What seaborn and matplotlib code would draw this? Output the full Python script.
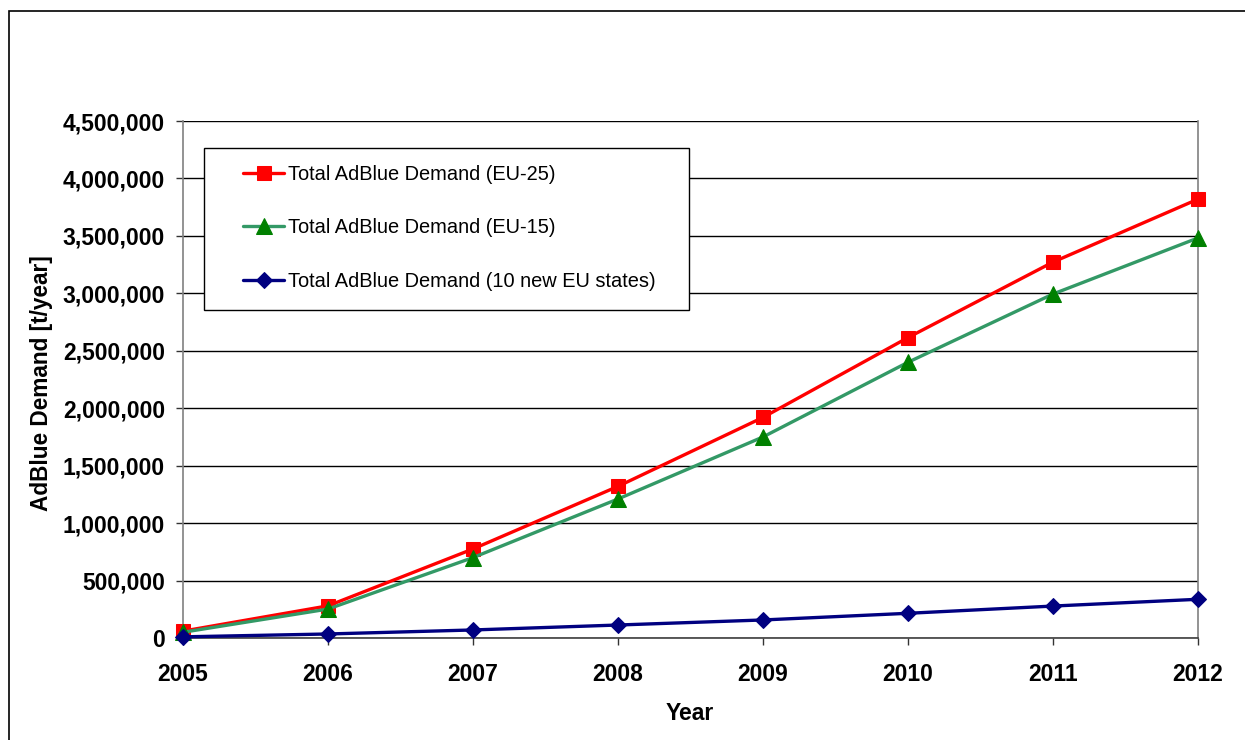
import matplotlib
matplotlib.use("Agg")
import matplotlib.pyplot as plt
import matplotlib.ticker as mticker
from matplotlib.patches import Rectangle
import seaborn as sns
import pandas as pd

years = [2005, 2006, 2007, 2008, 2009, 2010, 2011, 2012]
eu25 = [60000, 280000, 775000, 1320000, 1920000, 2615000, 3272000, 3820000]
eu15 = [50000, 252000, 700000, 1210000, 1750000, 2400000, 2994000, 3482000]
new10 = [10000, 35000, 70000, 113000, 157000, 215000, 278000, 337000]

labels = ["Total AdBlue Demand (EU-25)",
          "Total AdBlue Demand (EU-15)",
          "Total AdBlue Demand (10 new EU states)"]

sns.set_theme(style="white")
plt.rcParams['font.family'] = ['Liberation Sans', 'DejaVu Sans']
plt.rcParams['text.color'] = 'black'
plt.rcParams['axes.labelcolor'] = 'black'
plt.rcParams['xtick.color'] = 'black'
plt.rcParams['ytick.color'] = 'black'

fig = plt.figure(figsize=(12.45, 7.4), dpi=100)
ax = fig.add_axes([183/1245, 102/740, 1015/1245, 517/740])

# outer chart frame
fig.patches.append(Rectangle((9/1245, -0.1), 1.2, 1 - 11/740 + 0.1,
                             transform=fig.transFigure, fill=False,
                             edgecolor='black', linewidth=1.2))

df = pd.DataFrame({"Year": years, "EU25": eu25, "EU15": eu15, "NEW10": new10})

common = dict(linewidth=2.4, clip_on=False, zorder=5)
sns.lineplot(data=df, x="Year", y="EU25", ax=ax, color="#FF0000",
             marker="s", markersize=10, markerfacecolor="#FF0000",
             markeredgecolor="#FF0000", label=labels[0], **common)
sns.lineplot(data=df, x="Year", y="EU15", ax=ax, color="#339966",
             marker="^", markersize=11, markerfacecolor="#008000",
             markeredgecolor="#008000", label=labels[1], **common)
sns.lineplot(data=df, x="Year", y="NEW10", ax=ax, color="#000080",
             marker="D", markersize=8, markerfacecolor="#000080",
             markeredgecolor="#000080", label=labels[2], **common)

ax.set_xlim(2005, 2012)
ax.set_ylim(0, 4500000)
ax.set_xticks(years)
ax.set_yticks(range(0, 4500001, 500000))
ax.yaxis.set_major_formatter(mticker.FuncFormatter(lambda v, p: f"{int(v):,}"))
for lab in ax.get_xticklabels() + ax.get_yticklabels():
    lab.set_fontweight("bold")
    lab.set_fontsize(16.5)
ax.tick_params(axis='both', which='major', direction='out', length=5, width=1,
               color='#333333', left=True, bottom=True)
ax.tick_params(axis='x', pad=13)
ax.tick_params(axis='y', pad=8)

ax.grid(axis='y', color='black', linewidth=1)
ax.grid(axis='x', visible=False)
ax.set_axisbelow(True)
for s in ["left", "bottom", "right"]:
    ax.spines[s].set_visible(True)
    ax.spines[s].set_color("#808080")
    ax.spines[s].set_linewidth(1.2)
ax.spines["bottom"].set_color("#404040")
ax.spines["top"].set_visible(False)

ax.set_xlabel("Year", fontsize=16.5, fontweight="bold", va="center")
ax.xaxis.set_label_coords((690 - 183) / 1015, (638 - 713) / 517)
ax.set_ylabel("AdBlue Demand [t/year]", fontsize=16.3, fontweight="bold", va="center")
ax.yaxis.set_label_coords((41 - 183) / 1015, (638 - 383) / 517)

# legend box
ax.add_patch(Rectangle((21/1015, (638 - 310)/517), 485/1015, 162/517,
                       transform=ax.transAxes, facecolor="white",
                       edgecolor="black", linewidth=1.0, zorder=10, clip_on=False))
leg = ax.legend(loc="upper left", bbox_to_anchor=((243 - 183)/1015, (638 - 165)/517),
                borderaxespad=0, borderpad=0, frameon=False, fontsize=14.4,
                labelspacing=1.72, handlelength=2.05, handletextpad=0.2)
leg.set_zorder(11)

fig.savefig("out.png", dpi=100, facecolor="white")
